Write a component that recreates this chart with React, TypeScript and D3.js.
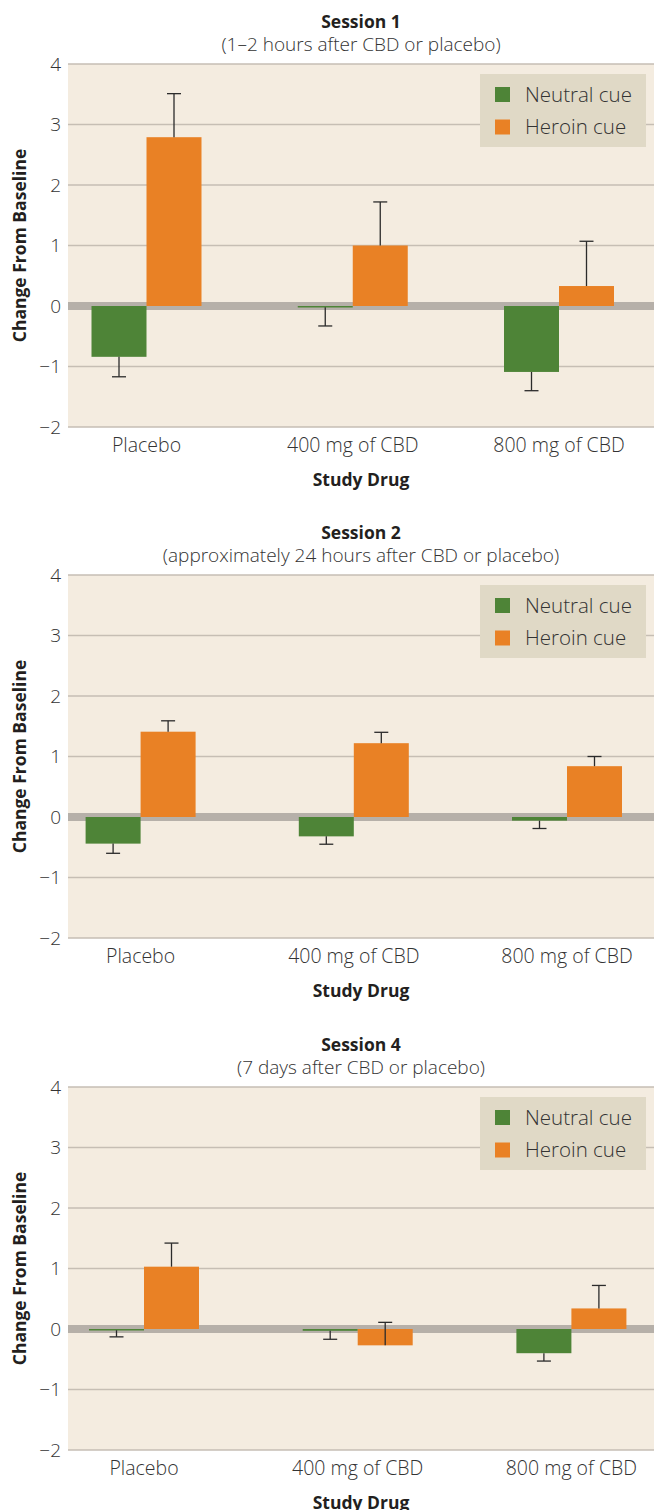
import React, { useEffect, useRef } from 'react';
import * as d3 from 'd3';

const categories = ["Placebo", "400 mg of CBD", "800 mg of CBD"];
const seriesNames = ["Neutral cue", "Heroin cue"];
const yTicks = [-2, -1, 0, 1, 2, 3, 4];

const sessionTitles = ["Session 1", "Session 2", "Session 4"];
const sessionSubtitles = [
    "(1\u20132 hours after CBD or placebo)",
    "(approximately 24 hours after CBD or placebo)",
    "(7 days after CBD or placebo)",
];

// mean change and end of error bar, per category
const s1Neutral = [-0.84, -0.02, -1.09];
const s1NeutralErr = [-1.17, -0.33, -1.40];
const s1Heroin = [2.79, 1.0, 0.33];
const s1HeroinErr = [3.51, 1.72, 1.07];

const s2Neutral = [-0.44, -0.32, -0.06];
const s2NeutralErr = [-0.60, -0.45, -0.19];
const s2Heroin = [1.41, 1.22, 0.84];
const s2HeroinErr = [1.59, 1.40, 1.0];

const s4Neutral = [-0.02, -0.03, -0.40];
const s4NeutralErr = [-0.13, -0.17, -0.53];
const s4Heroin = [1.03, -0.27, 0.34];
const s4HeroinErr = [1.42, 0.11, 0.72];

const colors = ["#4e8437", "#e98125"];
const FONT = "'Open Sans', Lato, sans-serif";

const App = () => {
    const ref = useRef(null);

    useEffect(() => {
        document.body.style.margin = "0";
        const svg = d3.select(ref.current);
        svg.selectAll("*").remove();

        const panels = [
            { top: 64, xr: [146.5, 559], vals: [s1Neutral, s1Heroin], errs: [s1NeutralErr, s1HeroinErr] },
            { top: 575, xr: [140.6, 567], vals: [s2Neutral, s2Heroin], errs: [s2NeutralErr, s2HeroinErr] },
            { top: 1087, xr: [144, 571.4], vals: [s4Neutral, s4Heroin], errs: [s4NeutralErr, s4HeroinErr] },
        ];

        const left = 68, right = 654, plotH = 363, barW = 55;

        panels.forEach((p, pi) => {
            const g = svg.append("g");
            const y = d3.scaleLinear().domain([-2, 4]).range([p.top + plotH, p.top]);
            const x = d3.scalePoint().domain(categories).range(p.xr);
            const cx = (left + right) / 2;

            g.append("rect")
                .attr("x", left).attr("y", p.top)
                .attr("width", right - left).attr("height", plotH)
                .attr("fill", "#f4ece0");

            // grid
            g.selectAll(".grid").data(yTicks.filter(t => t !== 0)).join("line")
                .attr("x1", left).attr("x2", right)
                .attr("y1", d => y(d)).attr("y2", d => y(d))
                .attr("stroke", "#c6beb4").attr("stroke-width", 1.5);

            g.append("line")
                .attr("x1", left).attr("x2", right)
                .attr("y1", y(0)).attr("y2", y(0))
                .attr("stroke", "#b6b0a9").attr("stroke-width", 8);

            // tick labels
            g.selectAll(".tick").data(yTicks).join("text")
                .attr("x", 61).attr("y", d => y(d))
                .attr("dy", "0.35em")
                .attr("text-anchor", "end")
                .attr("font-family", FONT).attr("font-size", 19).attr("font-weight", 300)
                .attr("fill", "#333")
                .text(d => d < 0 ? "\u2212" + Math.abs(d) : String(d));

            // bars
            p.vals.forEach((vals, si) => {
                const off = si === 0 ? -barW : 0;
                g.selectAll(".bar" + si).data(vals).join("rect")
                    .attr("x", (d, i) => x(categories[i]) + off)
                    .attr("width", barW)
                    .attr("y", d => y(Math.max(0, d)))
                    .attr("height", d => Math.max(1.5, Math.abs(y(d) - y(0))))
                    .attr("fill", colors[si]);
            });

            // error bars
            p.vals.forEach((vals, si) => {
                const off = si === 0 ? -barW / 2 : barW / 2;
                vals.forEach((v, i) => {
                    const e = p.errs[si][i];
                    const ex = x(categories[i]) + off;
                    g.append("line")
                        .attr("x1", ex).attr("x2", ex)
                        .attr("y1", y(v)).attr("y2", y(e))
                        .attr("stroke", "#2b2b2b").attr("stroke-width", 1.3);
                    g.append("line")
                        .attr("x1", ex - 7).attr("x2", ex + 7)
                        .attr("y1", y(e)).attr("y2", y(e))
                        .attr("stroke", "#2b2b2b").attr("stroke-width", 1.3);
                });
            });

            // category labels
            g.selectAll(".cat").data(categories).join("text")
                .attr("x", d => x(d)).attr("y", p.top + plotH + 25)
                .attr("text-anchor", "middle")
                .attr("font-family", FONT).attr("font-size", 19.5).attr("font-weight", 300)
                .attr("fill", "#333")
                .text(d => d);

            g.append("text")
                .attr("x", cx).attr("y", p.top + plotH + 59)
                .attr("text-anchor", "middle")
                .attr("font-family", FONT).attr("font-size", 17.5).attr("font-weight", 700)
                .attr("fill", "#231f20")
                .text("Study Drug");

            g.append("text")
                .attr("x", cx).attr("y", p.top - 36)
                .attr("text-anchor", "middle")
                .attr("font-family", FONT).attr("font-size", 17.5).attr("font-weight", 700)
                .attr("fill", "#231f20")
                .text(sessionTitles[pi]);

            g.append("text")
                .attr("x", cx).attr("y", p.top - 13)
                .attr("text-anchor", "middle")
                .attr("font-family", FONT).attr("font-size", 19).attr("font-weight", 300)
                .attr("fill", "#333")
                .text(sessionSubtitles[pi]);

            g.append("text")
                .attr("transform", `translate(26,${p.top + plotH / 2}) rotate(-90)`)
                .attr("text-anchor", "middle")
                .attr("font-family", FONT).attr("font-size", 17.5).attr("font-weight", 700)
                .attr("fill", "#231f20")
                .text("Change From Baseline");

            // legend
            const lg = g.append("g").attr("transform", `translate(480,${p.top + 10})`);
            lg.append("rect").attr("width", 166).attr("height", 73).attr("fill", "#e0d9c6");
            seriesNames.forEach((name, si) => {
                lg.append("rect")
                    .attr("x", 15).attr("y", 13 + si * 32.5)
                    .attr("width", 15).attr("height", 15)
                    .attr("fill", colors[si]);
                lg.append("text")
                    .attr("x", 45).attr("y", 20.5 + si * 32.5)
                    .attr("dy", "0.35em")
                    .attr("font-family", FONT).attr("font-size", 20.5).attr("font-weight", 300)
                    .attr("fill", "#333")
                    .text(name);
            });
        });
    }, []);

    return <svg ref={ref} width="654" height="1510"></svg>;
};

export default App;
